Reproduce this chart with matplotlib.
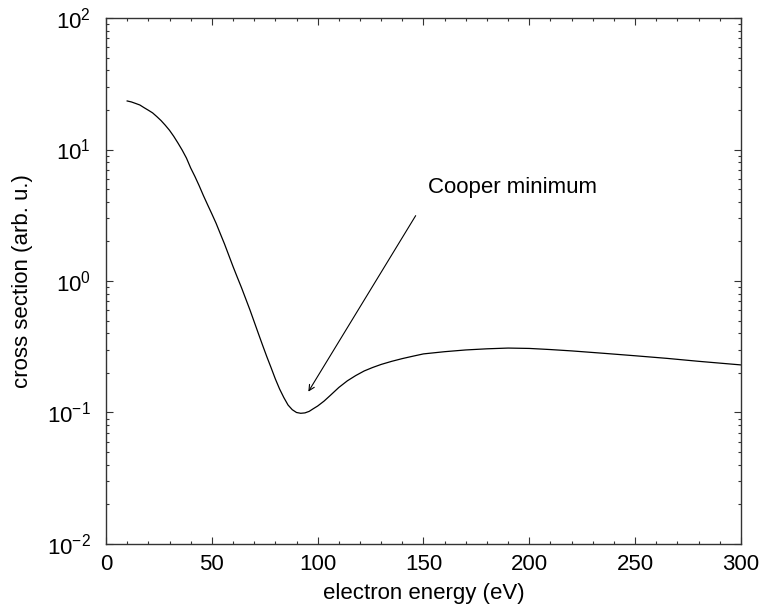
import matplotlib
matplotlib.use("Agg")
import matplotlib.pyplot as plt
from matplotlib.ticker import LogLocator, MultipleLocator, NullFormatter

plt.rcParams['font.family'] = ['Liberation Sans', 'DejaVu Sans']
plt.rcParams['mathtext.fontset'] = 'custom'
plt.rcParams['mathtext.rm'] = 'Liberation Sans'
plt.rcParams['mathtext.it'] = 'Liberation Sans:italic'

# photoionisation cross section vs. electron energy
energy = [10, 12, 14, 16, 18, 20, 22, 24, 26, 28, 30, 32, 34, 36, 38,
          40, 42, 44, 46, 48, 50, 52, 54, 56, 58, 60, 62, 64, 66, 68,
          70, 72, 74, 76, 78, 80, 82, 84, 86, 88, 90, 92, 94, 96, 98,
          100, 103, 106, 110, 114, 118, 122, 126, 130, 135, 140, 145, 150,
          160, 170, 180, 190, 200, 210, 220, 235, 250, 265, 280, 300]
sigma = [23.4, 23.0, 22.4, 21.8, 20.8, 19.9, 19.0, 17.8, 16.6, 15.3, 14.0,
         12.6, 11.2, 9.89, 8.61,
         7.24, 6.24, 5.31, 4.47, 3.80, 3.24, 2.75, 2.29, 1.91, 1.57, 1.29,
         1.07, 0.891, 0.733, 0.603,
         0.490, 0.398, 0.324, 0.265, 0.219, 0.180, 0.151, 0.130, 0.114,
         0.105, 0.100, 0.0986, 0.0993, 0.102, 0.107,
         0.112, 0.122, 0.135, 0.155, 0.174, 0.191, 0.207, 0.220, 0.232,
         0.245, 0.257, 0.268, 0.279,
         0.290, 0.299, 0.305, 0.309, 0.307, 0.301, 0.294, 0.282, 0.270,
         0.258, 0.245, 0.230]

label_text = "Cooper minimum"
label_pos = (152.1, 4.67)
arrow_tail = (146.3, 3.14)
arrow_head = (95.6, 0.144)

fig = plt.figure(figsize=(7.61, 6.13), dpi=100)
ax = fig.add_axes([0.1393, 0.1126, 0.8344, 0.858])

ax.plot(energy, sigma, color='black', lw=0.9)
ax.set_yscale('log')
ax.set_xlim(0, 300)
ax.set_ylim(1e-2, 1e2)

ax.xaxis.set_major_locator(MultipleLocator(50))
ax.xaxis.set_minor_locator(MultipleLocator(10))
ax.yaxis.set_major_locator(LogLocator(base=10, numticks=10))
ax.yaxis.set_minor_locator(LogLocator(base=10, subs=range(2, 10), numticks=10))
ax.yaxis.set_minor_formatter(NullFormatter())

ax.tick_params(which='both', direction='in', top=True, right=True,
               width=0.8, color='#333333', labelsize=16)
ax.tick_params(which='major', length=5)
ax.tick_params(which='minor', length=2.5)
ax.tick_params(axis='x', pad=7)
ax.tick_params(axis='y', pad=11)
for s in ax.spines.values():
    s.set_linewidth(1.0)
    s.set_color('#333333')

ax.set_xlabel("electron energy (eV)", fontsize=16, labelpad=6)
ax.set_ylabel("cross section (arb. u.)", fontsize=16, labelpad=10)

ax.text(label_pos[0], label_pos[1], label_text, fontsize=16,
        ha='left', va='baseline')
ax.annotate('', xy=arrow_head, xytext=arrow_tail,
            arrowprops=dict(arrowstyle='->', lw=0.8, color='black',
                            shrinkA=0, shrinkB=0))

fig.savefig("out.png", dpi=100)
